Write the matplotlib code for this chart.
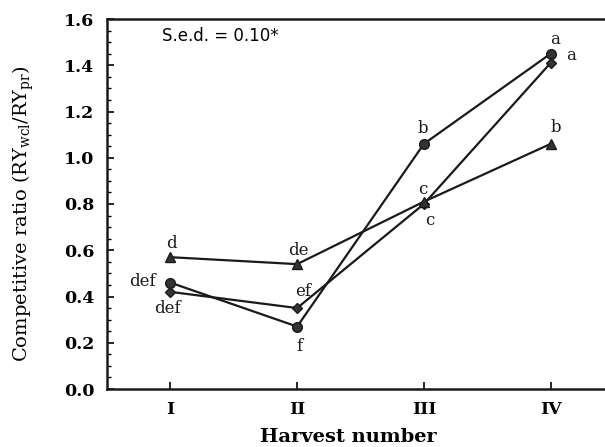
import matplotlib
matplotlib.use("Agg")
import matplotlib.pyplot as plt
from matplotlib.ticker import MultipleLocator

# Harvests and competitive ratios for the three treatments
harvests = [1, 2, 3, 4]
harvest_labels = ["I", "II", "III", "IV"]

ratio_circle = [0.46, 0.27, 1.06, 1.45]
ratio_diamond = [0.42, 0.35, 0.80, 1.41]
ratio_triangle = [0.57, 0.54, 0.81, 1.06]

letters_circle = ["def", "f", "b", "a"]
letters_diamond = ["def", "ef", "c", "a"]
letters_triangle = ["d", "de", "c", "b"]

plt.rcParams["font.family"] = ["DejaVu Serif"]

fig = plt.figure(figsize=(6.05, 4.47), dpi=100)
ax = fig.add_axes([107 / 605, 58 / 447, 507 / 605, 370 / 447])

line_kw = dict(color="#1a1a1a", lw=1.6, markerfacecolor="#333333",
               markeredgecolor="#1a1a1a", clip_on=False)
ax.plot(harvests, ratio_circle, marker="o", ms=7, **line_kw)
ax.plot(harvests, ratio_diamond, marker="D", ms=5.5, **line_kw)
ax.plot(harvests, ratio_triangle, marker="^", ms=7, **line_kw)

# letter offsets (points) for each series
off_circle = [(-20, 1), (2, -14), (-1, 11), (3, 10)]
off_diamond = [(-2, -12), (4, 12), (4, -12), (15, 5)]
off_triangle = [(1, 10), (1, 10), (-1, 9), (4, 12)]

lab_kw = dict(textcoords="offset points", ha="center", va="center",
              fontsize=12, color="#1a1a1a")
for vals, letters, offs in [(ratio_circle, letters_circle, off_circle),
                            (ratio_diamond, letters_diamond, off_diamond),
                            (ratio_triangle, letters_triangle, off_triangle)]:
    for x, y, t, o in zip(harvests, vals, letters, offs):
        ax.annotate(t, (x, y), xytext=o, **lab_kw)

ax.set_xlim(0.5, 4.5)
ax.set_ylim(0, 1.6)
ax.set_xticks(harvests)
ax.set_xticklabels(harvest_labels, fontweight="bold", fontsize=12.5)
ax.yaxis.set_major_locator(MultipleLocator(0.2))
ax.yaxis.set_minor_locator(MultipleLocator(0.05))
ax.set_yticklabels([f"{v:.1f}" for v in ax.get_yticks()],
                   fontweight="bold", fontsize=12.5)
ax.tick_params(axis="both", which="major", direction="in", length=5,
               width=1.2, pad=9)
ax.tick_params(axis="y", which="minor", direction="in", length=3, width=1)
ax.tick_params(axis="x", which="minor", length=0)

for s in ["left", "bottom", "top"]:
    ax.spines[s].set_linewidth(1.8)
    ax.spines[s].set_color("#1a1a1a")
ax.spines["right"].set_visible(False)

ax.set_ylabel(r"Competitive ratio (RY$\mathregular{_{wcl}}$/RY$\mathregular{_{pr}}$)",
              fontsize=14)
ax.yaxis.set_label_coords(-0.14, 0.473)
fig.text(348 / 605, 1 - 437 / 447, "Harvest number", fontsize=14,
         fontweight="bold", ha="center", va="center")

ax.text(0.108, 0.955, "S.e.d. = 0.10*", transform=ax.transAxes,
        fontsize=12, family="DejaVu Sans", va="center", ha="left")

fig.savefig("out.png", dpi=100)
